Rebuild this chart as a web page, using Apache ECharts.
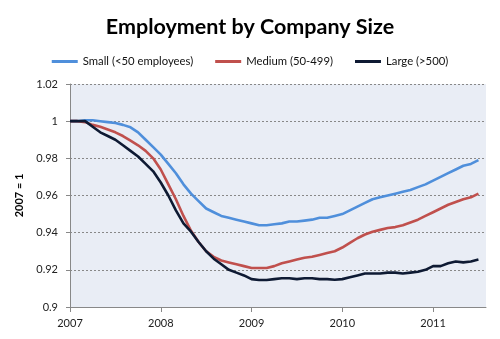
<!DOCTYPE html>
<html><head><meta charset="utf-8">
<script src="https://cdn.jsdelivr.net/npm/echarts@6/dist/echarts.min.js"></script>
<style>html,body{margin:0;padding:0;background:#fff}#c{width:500px;height:339px}</style>
</head><body><div id="c"></div>
<script>
// Monthly index values, Jan 2007 .. Jul 2011 (2007 = 1)
var startYear = 2007;
var yearTicks = ['2007', '2008', '2009', '2010', '2011'];
var small = [1.000,1.000,1.0005,1.0005,1.000,0.9995,0.999,0.998,0.9967,0.994,0.990,0.986,
  0.982,0.977,0.972,0.966,0.961,0.957,0.953,0.951,0.949,0.948,0.947,0.946,
  0.945,0.944,0.944,0.9445,0.945,0.946,0.946,0.9465,0.947,0.948,0.948,0.949,
  0.950,0.952,0.954,0.956,0.958,0.959,0.960,0.961,0.962,0.963,0.9645,0.966,
  0.968,0.970,0.972,0.974,0.976,0.977,0.979];
var medium = [1.000,1.000,0.9995,0.998,0.997,0.9955,0.994,0.992,0.9895,0.987,0.984,0.980,
  0.974,0.966,0.958,0.949,0.941,0.935,0.930,0.927,0.925,0.924,0.923,0.922,
  0.921,0.921,0.921,0.922,0.9235,0.9245,0.9255,0.9265,0.927,0.928,0.929,0.930,
  0.932,0.9345,0.937,0.939,0.9405,0.9415,0.9425,0.943,0.944,0.9455,0.947,0.949,
  0.951,0.953,0.955,0.9565,0.958,0.959,0.961];
var large = [1.000,1.000,1.000,0.997,0.994,0.992,0.990,0.987,0.984,0.981,0.977,0.973,
  0.967,0.960,0.952,0.945,0.9405,0.935,0.930,0.926,0.923,0.920,0.9185,0.917,
  0.915,0.9145,0.9145,0.915,0.9155,0.9155,0.915,0.9155,0.9155,0.915,0.915,0.9147,
  0.915,0.916,0.917,0.918,0.918,0.918,0.9185,0.9185,0.918,0.9185,0.919,0.920,
  0.922,0.922,0.9235,0.9245,0.924,0.9245,0.9255];
var seriesNames = ['Small (<50 employees)', 'Medium (50-499)', 'Large (>500)'];
var colors = ['#4F8FDB', '#C0504D', '#0E1A33'];

function pairs(arr){ return arr.map(function(v,i){ return [i, v]; }); }
var tickVals = yearTicks.map(function(t){ return (parseInt(t,10)-startYear)*12; });

var chart = echarts.init(document.getElementById('c'));
var font = 'Lato, "Liberation Sans", sans-serif';
chart.setOption({
  animation: false,
  color: colors,
  title: {
    text: 'Employment by Company Size', left: 'center', top: 11,
    textStyle: {fontFamily: font, fontSize: 21.5, fontWeight: 'bold', color: '#000'}
  },
  legend: {
    top: 51, left: 'center', itemWidth: 26, itemHeight: 3, itemGap: 22, icon: 'rect',
    textStyle: {fontFamily: font, fontSize: 11.3, color: '#111'},
    data: seriesNames
  },
  grid: {left: 70, right: 14, top: 84, bottom: 32, show: true, backgroundColor: '#E9EDF5', borderWidth: 0},
  xAxis: {
    type: 'value', min: 0, max: 55, interval: 12,
    axisLine: {show: true, onZero: false, lineStyle: {color: '#888', width: 1}},
    axisTick: {show: true, length: 5, lineStyle: {color: '#888'}, customValues: tickVals},
    axisLabel: {customValues: tickVals, fontFamily: font, fontSize: 11, color: '#222', margin: 11,
      formatter: function(v){ return String(startYear + Math.round(v/12)); }},
    splitLine: {show: false}
  },
  yAxis: {
    type: 'value', min: 0.9, max: 1.02, interval: 0.02,
    name: '2007 = 1', nameLocation: 'middle', nameGap: 38, nameRotate: 90,
    nameTextStyle: {fontFamily: font, fontSize: 11, fontWeight: 'bold', color: '#000'},
    axisLine: {show: true, lineStyle: {color: '#888', width: 1}},
    axisTick: {show: true, length: 4, lineStyle: {color: '#888'}},
    axisLabel: {fontFamily: font, fontSize: 11, color: '#222', margin: 12,
      formatter: function(v){ return String(parseFloat(v.toFixed(2))); }},
    splitLine: {show: true, lineStyle: {color: '#888', type: [2, 2], width: 1}}
  },
  series: [
    {name: seriesNames[0], type: 'line', data: pairs(small), showSymbol: false, lineStyle: {width: 2.6}, z: 3},
    {name: seriesNames[1], type: 'line', data: pairs(medium), showSymbol: false, lineStyle: {width: 2.6}, z: 4},
    {name: seriesNames[2], type: 'line', data: pairs(large), showSymbol: false, lineStyle: {width: 2.6}, z: 5}
  ]
});
</script></body></html>
